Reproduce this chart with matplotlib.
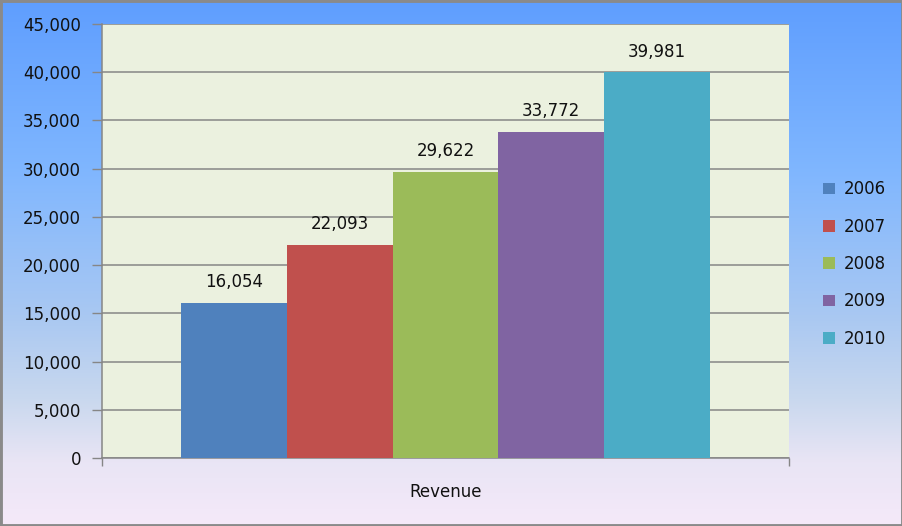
import numpy as np
import matplotlib
matplotlib.use("Agg")
import matplotlib.pyplot as plt
from matplotlib.colors import LinearSegmentedColormap
from matplotlib.patches import Rectangle

years = ["2006", "2007", "2008", "2009", "2010"]
revenue = [16054, 22093, 29622, 33772, 39981]
category = "Revenue"
colors = ["#4f81bd", "#c0504d", "#9bbb59", "#8064a2", "#4bacc6"]
yticks = [0, 5000, 10000, 15000, 20000, 25000, 30000, 35000, 40000, 45000]

plt.rcParams['font.family'] = ['DejaVu Sans']
W, H = 903, 526
fig = plt.figure(figsize=(W / 100, H / 100), dpi=100)

# background gradient
bg = fig.add_axes([0, 0, 1, 1], zorder=-10)
cmap = LinearSegmentedColormap.from_list("bg", [
    (0.0, "#5f9efe"), (0.32, "#7fb6ff"), (0.60, "#a9c8f2"),
    (0.76, "#c9d8ee"), (0.88, "#e9e5f5"), (1.0, "#f5e9f9")])
grad = np.linspace(0, 1, 256).reshape(-1, 1)
bg.imshow(grad, aspect="auto", cmap=cmap, extent=[0, 1, 0, 1], origin="upper")
bg.set_xlim(0, 1); bg.set_ylim(0, 1)
bg.axis("off")
bg.add_patch(Rectangle((0, 0), 1, 1, transform=bg.transAxes, fill=False,
                       edgecolor="#8a8a8a", linewidth=3.5, clip_on=False))

left, right, top, bottom = 102, 789, 24, 458
ax = fig.add_axes([left / W, 1 - bottom / H, (right - left) / W, (bottom - top) / H])
ax.set_facecolor("#ebf1df")

n = len(years)
xs = np.arange(n) - (n - 1) / 2
half = (right - left) / (710 - 181) * n / 2
for x, v, c, yr in zip(xs, revenue, colors, years):
    ax.bar(x, v, width=1.0, color=c, label=yr, zorder=3)
    ax.annotate(f"{v:,}", (x, v), xytext=(0, 15), textcoords="offset points",
                ha="center", va="center", fontsize=12, color="#111111")

ax.set_xlim(-half, half)
ax.set_ylim(0, 45000)
ax.set_yticks(yticks)
ax.set_yticklabels([f"{t:,}" for t in yticks], fontsize=12, color="#111111")
ax.tick_params(axis="y", length=7, width=1.0, color="#868686", pad=8)
ax.grid(axis="y", color="#868686", linewidth=1.1, zorder=0)
ax.set_xticks([-half, half])
ax.set_xticklabels(["", ""])
ax.tick_params(axis="x", length=6, width=1.0, color="#868686")
for s in ["top", "right"]:
    ax.spines[s].set_visible(False)
for s in ["left", "bottom"]:
    ax.spines[s].set_color("#868686")
    ax.spines[s].set_linewidth(1.1)
ax.text(0.5, -34 / (bottom - top), category, transform=ax.transAxes,
        ha="center", va="center", fontsize=12, color="#111111")

leg = fig.legend(loc="upper left", bbox_to_anchor=(815 / W, 1 - 172 / H),
                 frameon=False, fontsize=12, handlelength=0.7, handleheight=0.7,
                 handletextpad=0.5, labelspacing=1.16, borderpad=0)
for t in leg.get_texts():
    t.set_color("#111111")

fig.savefig("out.png", dpi=100)
